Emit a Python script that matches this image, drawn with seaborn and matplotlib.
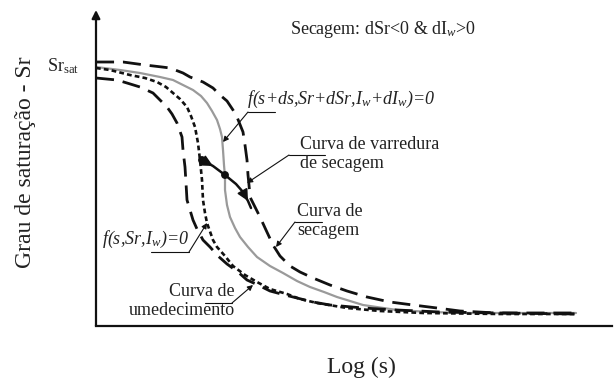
import matplotlib
matplotlib.use('Agg')
import matplotlib.pyplot as plt
import seaborn as sns

# curves (x = Log(s), y = Sr, arbitrary units)
# curva de secagem (outer dashed)
sec_x = [0, 27, 49, 66, 74, 87, 94, 107, 117, 124, 131, 137, 141, 147, 149, 151, 152, 153, 154,
         159, 164, 170, 177, 184, 194, 204, 217, 234, 251, 271, 294, 317, 341, 364, 401, 444, 480]
sec_y = [264, 264, 261, 259, 258, 253, 249, 244, 238, 231, 225, 216, 209, 194, 181, 166, 151, 141, 129,
         119, 109, 96, 81, 70, 60, 54, 48, 41, 35, 29, 24, 21, 18, 15, 13, 13, 13]

# f(s+ds, Sr+dSr, Iw+dIw)=0 (grey)
f2_x = [0, 24, 44, 64, 77, 89, 97, 105, 111, 116, 121, 124, 126, 127, 128, 129, 129, 131, 134,
        139, 144, 152, 161, 174, 187, 201, 214, 228, 241, 267, 301, 334, 374, 480]
f2_y = [259, 256, 253, 249, 246, 240, 236, 230, 223, 215, 206, 197, 189, 176, 161, 149, 136, 121, 109,
        98, 89, 79, 69, 60, 53, 45, 39, 34, 29, 21, 16, 14, 13, 13]

# f(s, Sr, Iw)=0 (dotted)
f1_x = [0, 14, 34, 49, 61, 70, 77, 84, 91, 95, 99, 102, 104, 106, 107, 109, 111, 117, 121,
        129, 137, 149, 161, 174, 191, 204, 221, 251, 284, 327, 404, 480]
f1_y = [258, 256, 251, 248, 244, 239, 233, 227, 219, 210, 199, 183, 166, 146, 126, 113, 103, 86, 79,
        70, 60, 51, 44, 37, 32, 27, 23, 18, 15, 13, 12, 12]

# curva de umedecimento (inner dashed)
um_x = [0, 21, 31, 44, 57, 64, 71, 76, 81, 86, 87, 89, 90, 91, 94, 97, 101, 107, 114,
        122, 131, 142, 151, 162, 174, 189, 201, 217, 234, 267, 301, 344, 404, 480]
um_y = [248, 246, 243, 239, 233, 226, 219, 212, 203, 189, 176, 159, 143, 126, 116, 106, 97, 86, 79,
        70, 62, 54, 46, 41, 35, 31, 28, 24, 21, 18, 16, 14, 13, 12]

# curva de varredura de secagem
var_x = [106, 117, 129, 140, 147, 152, 155]
var_y = [166, 160, 151, 142, 134, 125, 118]

sns.set_style('white')
plt.rcParams['font.family'] = ['Liberation Serif', 'DejaVu Serif']
plt.rcParams['mathtext.fontset'] = 'custom'
plt.rcParams['mathtext.rm'] = 'Liberation Serif'
plt.rcParams['mathtext.it'] = 'Liberation Serif:italic'

fig = plt.figure(figsize=(6.16, 3.85), dpi=100)
ax = fig.add_axes([96 / 616, 59 / 385, 520 / 616, 316 / 385])
ax.set_xlim(0, 520)
ax.set_ylim(0, 316)
ax.set_xticks([])
ax.set_yticks([])
for s in ['top', 'right', 'left']:
    ax.spines[s].set_visible(False)
ax.spines['bottom'].set_color('#111111')
ax.spines['bottom'].set_linewidth(1.6)
ax.spines['bottom'].set_bounds(0, 516)
ax.annotate('', xy=(0, 316), xytext=(0, 0), annotation_clip=False,
            arrowprops=dict(arrowstyle='-|>', color='#111111', lw=1.6, mutation_scale=12,
                            shrinkA=0, shrinkB=0))

sns.lineplot(x=f2_x, y=f2_y, ax=ax, sort=False, estimator=None, color='#9a9a9a', lw=1.6)
sns.lineplot(x=sec_x, y=sec_y, ax=ax, sort=False, estimator=None, color='#111111', lw=2.0,
             linestyle=(0, (6.5, 3.2)))
sns.lineplot(x=um_x, y=um_y, ax=ax, sort=False, estimator=None, color='#111111', lw=2.0,
             linestyle=(0, (6.5, 3.2)))
sns.lineplot(x=f1_x, y=f1_y, ax=ax, sort=False, estimator=None, color='#111111', lw=1.9,
             linestyle=(0, (1.8, 1.2)))
sns.lineplot(x=var_x, y=var_y, ax=ax, sort=False, estimator=None, color='#111111', lw=1.8)
sns.scatterplot(x=[var_x[0], var_x[2]], y=[var_y[0], var_y[2]], ax=ax, color='#111111', s=32,
                edgecolor='none', zorder=5)
for a, b in [(0, 1), (4, 5)]:
    ax.annotate('', xy=(var_x[b], var_y[b]), xytext=(var_x[a], var_y[a]),
                arrowprops=dict(arrowstyle='-|>', color='#111111', lw=1.2, mutation_scale=17,
                                shrinkA=0, shrinkB=0))

lead = dict(arrowstyle='-|>', color='#111111', lw=0.8, mutation_scale=8, shrinkA=0, shrinkB=0)
txt = dict(fontsize=13, color='#222222')

# f(s+ds,...)
ax.text(151, 227, 'f(s+ds,Sr+dSr,I$_w$+dI$_w$)=0', style='italic', va='center', ha='left', **txt)
ax.plot([152, 179], [214, 214], color='#111111', lw=0.8)
ax.annotate('', xy=(127, 184), xytext=(152, 214), arrowprops=lead)

# curva de varredura
ax.text(204, 190, 'Curva de varredura\nde secagem', va='top', ha='left', linespacing=1.15, **txt)
ax.plot([193, 229], [171, 171], color='#111111', lw=0.8)
ax.annotate('', xy=(151, 143), xytext=(193, 171), arrowprops=lead)

# curva de secagem
ax.text(201, 123, 'Curva de\nsecagem', va='top', ha='left', linespacing=1.15, **txt)
ax.plot([199, 226], [104, 104], color='#111111', lw=0.8)
ax.annotate('', xy=(180, 79), xytext=(199, 104), arrowprops=lead)

# f(s,Sr,Iw)=0
ax.text(93, 87, 'f(s,Sr,I$_w$)=0', style='italic', va='center', ha='right', **txt)
ax.plot([55, 93], [74, 74], color='#111111', lw=0.8)
ax.annotate('', xy=(111, 103), xytext=(93, 74), arrowprops=lead)

# curva de umedecimento
ax.text(139, 43, 'Curva de\numedecimento', va='top', ha='right', multialignment='right',
        linespacing=1.15, **txt)
ax.plot([109, 136], [23, 23], color='#111111', lw=0.8)
ax.annotate('', xy=(157, 41), xytext=(136, 23), arrowprops=lead)

ax.text(194, 296, 'Secagem: dSr<0 & dI$_w$>0', va='center', ha='left', **txt)
ax.text(-49, 260, r'Sr$_{\rm sat}$', va='center', ha='left', clip_on=False, **txt)

fig.text(26 / 616, 1 - 162 / 385, 'Grau de saturação - Sr', rotation=90, fontsize=17,
         ha='center', va='center', color='#222222')
fig.text(361 / 616, 1 - 367 / 385, 'Log (s)', fontsize=17, ha='center', va='center',
         color='#222222')

fig.savefig('out.png', dpi=100)
